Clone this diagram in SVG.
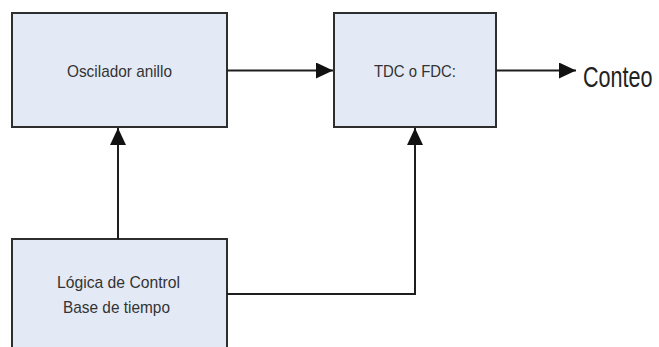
<svg xmlns="http://www.w3.org/2000/svg" width="659" height="347" viewBox="0 0 659 347">
  <style>
    .box { fill: #e4eaf5; stroke: #2e2e2e; stroke-width: 2; }
    .lbl { font-family: "Liberation Sans", Arial, sans-serif; font-size: 17px; fill: #333; text-anchor: middle; }
    .wire { fill: none; stroke: #1e1e1e; stroke-width: 2; }
    .out { font-family: "Liberation Sans", Arial, sans-serif; font-size: 30px; fill: #222; }
  </style>
  <defs>
    <marker id="arrow" markerUnits="userSpaceOnUse" markerWidth="18" markerHeight="16" refX="17" refY="8" orient="auto">
      <path d="M0,0 L17,8 L0,16 Z" fill="#111"/>
    </marker>
  </defs>
  <rect width="659" height="347" fill="#ffffff"/>

  <g id="oscilador">
    <rect class="box" x="12" y="13" width="215" height="114"/>
    <text class="lbl" x="119.5" y="77" textLength="105" lengthAdjust="spacingAndGlyphs">Oscilador anillo</text>
  </g>

  <g id="tdc">
    <rect class="box" x="334" y="13" width="162" height="114"/>
    <text class="lbl" x="415" y="77" textLength="82" lengthAdjust="spacingAndGlyphs">TDC o FDC:</text>
  </g>

  <g id="logica">
    <rect class="box" x="12" y="239" width="215" height="120"/>
    <text class="lbl" x="118.5" y="288" textLength="123" lengthAdjust="spacingAndGlyphs">Lógica de Control</text>
    <text class="lbl" x="116.5" y="313" textLength="107" lengthAdjust="spacingAndGlyphs">Base de tiempo</text>
  </g>

  <g id="connectors">
    <path class="wire" d="M227,70.5 H333" marker-end="url(#arrow)"/>
    <path class="wire" d="M118,239 V128" marker-end="url(#arrow)"/>
    <path class="wire" d="M227,294 H415 V128" marker-end="url(#arrow)"/>
    <path class="wire" d="M496,70.5 H576" marker-end="url(#arrow)"/>
  </g>

  <g id="conteo">
    <!-- narrow output label: horizontally condensed -->
    <text class="out" transform="translate(583,87) scale(0.72,1)">Conteo</text>
  </g>
</svg>
